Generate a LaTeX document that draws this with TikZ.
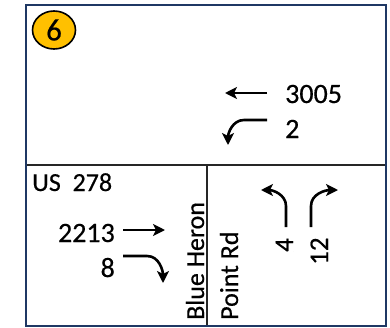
\documentclass[tikz,border=0pt]{standalone}
\usepackage{fontspec}
\setmainfont{Carlito}[FakeBold=0.5]
\usetikzlibrary{arrows.meta,shapes.geometric}
\definecolor{framenavy}{RGB}{31,56,100}
\definecolor{badgegold}{RGB}{255,192,0}
\tikzset{
  mv/.style={line width=2.6pt,-{Stealth[length=12pt,width=12pt,inset=3pt]}},
  lbl/.style={inner sep=0pt,font=\fontsize{28}{32}\selectfont},
  road/.style={inner sep=0pt,font=\fontsize{26}{30}\selectfont},
  divider/.style={line width=1.6pt,black!85},
}
\begin{document}
\begin{tikzpicture}[x=1pt,y=-1pt]
\useasboundingbox[fill=white] (0,0) rectangle (390,327);
% frame and dividers
\coordinate (tl) at (26,5);
\coordinate (br) at (386,326);
\coordinate (hl) at (26,165);
\coordinate (hr) at (386,165);
\coordinate (vt) at (207,165);
\coordinate (vb) at (207,326);
\draw[divider] (hl) -- (hr);
\draw[divider] (vt) -- (vb);
\draw[framenavy,line width=2.6pt] (tl) rectangle (br);
% badge
\node[ellipse,draw=black,line width=1.6pt,fill=badgegold,minimum width=43pt,minimum height=38pt,inner sep=0pt,font=\fontsize{31}{34}\selectfont] (badge) at (54,30) {6};
% westbound (top)
\node[lbl,anchor=base west] (wbt) at (285,103) {3005};
\node[lbl,anchor=base west] (wbl) at (285,138) {2};
\coordinate (wbt1) at (267,93);
\coordinate (wbt2) at (225,93);
\draw[mv] (wbt1) -- (wbt2);
\coordinate (wbl1) at (267,120);
\coordinate (wbl2) at (244,120);
\coordinate (wbl3) at (228,145);
\draw[mv] (wbl1) -- (wbl2) to[out=180,in=90] (wbl3);
% eastbound (bottom left)
\node[road,anchor=base west] (us) at (32,191) {US\ \ 278};
\node[lbl,anchor=base east] (ebt) at (115,242) {2213};
\node[lbl,anchor=base east] (ebr) at (115,277) {8};
\coordinate (ebt1) at (123,230);
\coordinate (ebt2) at (165,230);
\draw[mv] (ebt1) -- (ebt2);
\coordinate (ebr1) at (123,256);
\coordinate (ebr2) at (147,256);
\coordinate (ebr3) at (163,283);
\draw[mv] (ebr1) -- (ebr2) to[out=0,in=90] (ebr3);
% side street names
\node[road,rotate=90,anchor=base west] (blue) at (204,320) {Blue Heron};
\node[road,rotate=90,anchor=base west] (point) at (238,320) {Point Rd};
% northbound (bottom right)
\node[road,rotate=90,anchor=base west,font=\fontsize{27}{30}\selectfont] (nbl) at (293,252) {4};
\node[road,rotate=90,anchor=base west,font=\fontsize{27}{30}\selectfont] (nbr) at (328,265) {12};
\coordinate (nbl1) at (286,227);
\coordinate (nbl2) at (286,206);
\coordinate (nbl3) at (261,190);
\draw[mv] (nbl1) -- (nbl2) to[out=90,in=0] (nbl3);
\coordinate (nbr1) at (311,227);
\coordinate (nbr2) at (311,206);
\coordinate (nbr3) at (338,190);
\draw[mv] (nbr1) -- (nbr2) to[out=90,in=180] (nbr3);
\end{tikzpicture}
\end{document}
